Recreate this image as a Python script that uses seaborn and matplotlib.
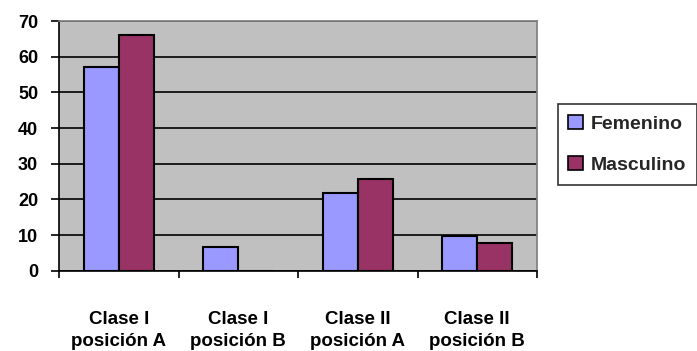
import matplotlib
matplotlib.use("Agg")
import matplotlib.pyplot as plt
import seaborn as sns
import pandas as pd
from matplotlib.ticker import FixedLocator

categories = ["Clase I\nposición A", "Clase I\nposición B", "Clase II\nposición A", "Clase II\nposición B"]
femenino = [57.0, 6.6, 21.7, 9.8]
masculino = [66.1, 0.0, 25.6, 7.8]
series = ["Femenino", "Masculino"]
yticks = [0, 10, 20, 30, 40, 50, 60, 70]

df = pd.DataFrame({
    "cat": categories * 2,
    "serie": [series[0]] * 4 + [series[1]] * 4,
    "val": femenino + masculino,
})

sns.set_theme(style="white")
plt.rcParams['font.family'] = ['Liberation Sans', 'DejaVu Sans']
plt.rcParams['font.weight'] = 'bold'

fig = plt.figure(figsize=(6.97, 3.51), dpi=100)
ax = fig.add_axes([59/697, 1 - 270.7/351, (537 - 59)/697, (270.7 - 21)/351])
ax.set_facecolor("#C0C0C0")

sns.barplot(data=df, x="cat", y="val", hue="serie", order=categories, hue_order=series,
            palette={"Femenino": "#9999FF", "Masculino": "#993366"},
            width=0.586, edgecolor="black", linewidth=1.5, saturation=1, ax=ax, zorder=3)

ax.set_ylim(0, 70)
ax.set_xlim(-0.5, 3.5)
ax.set_yticks(yticks)
ax.yaxis.grid(True, color="black", linewidth=1.2, zorder=1)
ax.set_axisbelow(True)
ax.set_xlabel("")
ax.set_ylabel("")

ax.tick_params(axis="y", which="major", length=6, width=1.2, color="black", direction="out",
               labelsize=13, pad=9, left=True)
ax.tick_params(axis="x", which="major", length=0, labelsize=13.5, pad=29)
ax.xaxis.set_minor_locator(FixedLocator([-0.5, 0.5, 1.5, 2.5, 3.5]))
ax.tick_params(axis="x", which="minor", length=5, width=1.2, color="black", direction="out", bottom=True)
for lbl in ax.get_xticklabels() + ax.get_yticklabels():
    lbl.set_fontweight("bold")
    lbl.set_color("black")
for lbl in ax.get_xticklabels():
    lbl.set_linespacing(1.4)

ax.spines["left"].set_color("black")
ax.spines["left"].set_linewidth(1.2)
ax.spines["bottom"].set_color("black")
ax.spines["bottom"].set_linewidth(1.2)
ax.spines["top"].set_color("#808080")
ax.spines["right"].set_color("#808080")

leg = ax.legend(loc="center left", bbox_to_anchor=(557.7/697, 1 - 144.5/351),
                bbox_transform=fig.transFigure, frameon=True, fancybox=False,
                prop={"size": 14, "weight": "bold"}, handlelength=0.75, handleheight=0.75,
                handletextpad=0.4, labelspacing=1.2, borderpad=0.55, borderaxespad=0)
leg.get_frame().set_edgecolor("black")
leg.get_frame().set_linewidth(1.2)
for h in leg.legend_handles:
    h.set_edgecolor("black")
    h.set_linewidth(1.2)

fig.savefig("out.png", dpi=100)
